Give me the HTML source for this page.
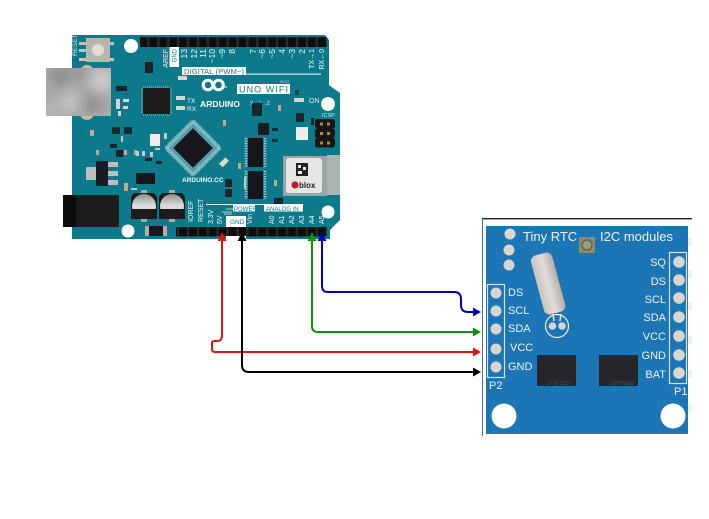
<!DOCTYPE html>
<html><head><meta charset="utf-8"><style>
html,body{margin:0;padding:0;background:#fff;width:709px;height:519px;overflow:hidden}
svg{display:block}
text{font-family:"Liberation Sans",sans-serif}
</style></head><body>
<svg width="709" height="519" viewBox="0 0 709 519" xmlns="http://www.w3.org/2000/svg">
<defs>
<filter id="b" x="-20%" y="-20%" width="140%" height="140%"><feGaussianBlur stdDeviation="6"/></filter>
<filter id="s" x="-2%" y="-2%" width="104%" height="104%"><feGaussianBlur stdDeviation="0.35"/></filter>
<clipPath id="uc"><rect x="46" y="68" width="65" height="48"/></clipPath>
<pattern id="hp" x="0" y="0" width="9.9" height="12" patternUnits="userSpaceOnUse"><rect width="9.9" height="12" fill="#2a2a2a"/><rect x="1.2" width="7.4" height="12" fill="#0c0c0c"/></pattern>
<linearGradient id="cg" x1="0" y1="0" x2="0" y2="1"><stop offset="0" stop-color="#8f8f8f"/><stop offset=".45" stop-color="#d8d8d8"/><stop offset=".62" stop-color="#e0e0e0"/><stop offset=".63" stop-color="#1a1a1a"/><stop offset="1" stop-color="#222"/></linearGradient>
<linearGradient id="xg" x1="0" y1="0" x2="1" y2="0"><stop offset="0" stop-color="#c9c3bd"/><stop offset=".5" stop-color="#e0dcd8"/><stop offset="1" stop-color="#b5aea8"/></linearGradient>
</defs>

<g filter="url(#s)">
<!-- Arduino board -->
<path d="M72 35H325L329 40V85L340 93V220L330 230V239H72Z" fill="#107a8b"/>

<!-- USB -->
<circle cx="87" cy="72" r="7" fill="#c9b9a3"/><circle cx="87" cy="113" r="7" fill="#c9b9a3"/>
<rect x="46" y="68" width="65" height="48" fill="#a9a9a9"/>
<g clip-path="url(#uc)"><g filter="url(#b)">
<circle cx="60" cy="76" r="10" fill="#8a8a8a"/><circle cx="102" cy="80" r="11" fill="#d2d2d2"/>
<circle cx="80" cy="72" r="8" fill="#939393"/><circle cx="70" cy="102" r="9" fill="#c9c9c9"/>
<circle cx="92" cy="104" r="9" fill="#8c8c8c"/><circle cx="52" cy="110" r="7" fill="#bdbdbd"/>
</g></g>

<!-- Reset -->
<rect x="79" y="42" width="9" height="3" fill="#c9c2b8"/><rect x="79" y="49" width="9" height="3" fill="#c9c2b8"/><rect x="79" y="58" width="9" height="3" fill="#c9c2b8"/>
<rect x="107" y="42" width="7" height="3" fill="#c9c2b8"/><rect x="107" y="58" width="7" height="3" fill="#c9c2b8"/>
<rect x="86" y="38" width="24" height="24" fill="#b8b5af"/><circle cx="98" cy="50" r="6" fill="#e0ddd2"/>
<text transform="translate(77 56) rotate(-90)" font-size="6.5" fill="#cfe6ea">RESET</text>

<!-- Holes -->
<circle cx="131" cy="46" r="7" fill="#fff"/><circle cx="328" cy="104" r="7" fill="#fff"/>
<circle cx="128" cy="231" r="6.5" fill="#fff"/><circle cx="328" cy="212" r="6.5" fill="#fff"/>

<!-- Headers -->
<rect x="140" y="37" width="187" height="10" fill="url(#hp)"/>
<rect x="176" y="227" width="151" height="9.5" fill="url(#hp)"/>
<rect x="226" y="236" width="20" height="4" fill="#fff"/>

<!-- Top labels -->
<rect x="169.500" y="47" width="9.500" height="20" fill="#fff"/>
<g font-size="8.500" fill="#f2f8f8" text-anchor="end">
<text transform="translate(168 49) rotate(-90)" font-size="7">AREF</text>
<text transform="translate(176.500 49) rotate(-90)" font-size="6" fill="#107a8b">GND</text>
<text transform="translate(187 49) rotate(-90)">13</text>
<text transform="translate(197 49) rotate(-90)">12</text>
<text transform="translate(206 49) rotate(-90)">11</text>
<text transform="translate(215 49) rotate(-90)">~10</text>
<text transform="translate(225 49) rotate(-90)">~9</text>
<text transform="translate(235 49) rotate(-90)">8</text>
<text transform="translate(256 49) rotate(-90)">7</text>
<text transform="translate(265 49) rotate(-90)">~6</text>
<text transform="translate(275 49) rotate(-90)">~5</text>
<text transform="translate(285 49) rotate(-90)">4</text>
<text transform="translate(295 49) rotate(-90)">~3</text>
<text transform="translate(305 49) rotate(-90)">2</text>
<text transform="translate(314 49) rotate(-90)" font-size="7">TX→1</text>
<text transform="translate(324 49) rotate(-90)" font-size="7">RX←0</text>
</g>
<rect x="182" y="67" width="64" height="8" fill="#fff"/>
<rect x="246" y="73.500" width="75" height="1.200" fill="#d8eef0"/>
<text x="184" y="74" font-size="7.500" fill="#107a8b" textLength="60">DIGITAL (PWM~)</text>

<!-- Logo -->
<g fill="none" stroke="#fff" stroke-width="3"><circle cx="208" cy="85" r="4.800"/><circle cx="218.500" cy="85" r="4.800"/></g>
<path d="M224 87h3" stroke="#fff" stroke-width="1"/>
<text x="200" y="107" font-size="8.500" font-weight="bold" fill="#fff" textLength="40">ARDUINO</text>
<rect x="237" y="84" width="53" height="10" fill="#fff"/>
<text x="239" y="92.500" font-size="9" fill="#107a8b" textLength="49">UNO WIFI</text>
<text x="280" y="83" font-size="3.500" fill="#b8dfe4">REV2</text>
<text x="309" y="103" font-size="7" fill="#e0f0f2">ON</text>
<rect x="294" y="98" width="10" height="4" fill="#d4d2cc"/><rect x="295" y="90" width="4" height="5" fill="#1b3f46"/>
<text x="322" y="117" font-size="5.500" fill="#cfe6ea">ICSP</text>
<text x="250" y="105" font-size="5" fill="#d8eef0">X←┴→Z</text>

<!-- ICSP -->
<rect x="315" y="119" width="20" height="9.500" rx="2.500" fill="#151515"/><rect x="315" y="128.500" width="20" height="9.500" rx="2.500" fill="#151515"/><rect x="315" y="138" width="20" height="9.500" rx="2.500" fill="#151515"/>
<g fill="#b08a2a"><rect x="320" y="122.500" width="3" height="3"/><rect x="327" y="122.500" width="3" height="3"/><rect x="320" y="132" width="3" height="3"/><rect x="327" y="132" width="3" height="3"/><rect x="320" y="141.500" width="3" height="3"/><rect x="327" y="141.500" width="3" height="3"/></g>

<!-- Chips -->
<rect x="143" y="88" width="27" height="26" fill="#1a1c1e"/>
<path d="M143 87h27M143 115h27M142 88v26M171 88v26" stroke="#6fa7ae" stroke-width="1.500" stroke-dasharray="1 1" fill="none"/>
<rect x="145" y="62" width="8" height="11" fill="#1a2226"/>
<rect x="116" y="86" width="11" height="5" fill="#16282c"/>
<g fill="#d7d5cf">
<rect x="116" y="99" width="4" height="10"/><rect x="123" y="99" width="6" height="3"/><rect x="123" y="106" width="5" height="3"/><rect x="118" y="111" width="3" height="5"/>
<rect x="176" y="96" width="9" height="4"/><rect x="176" y="106" width="9" height="4"/><rect x="178" y="76" width="9" height="4"/>
<rect x="296" y="127" width="12" height="13" fill="#efeee8"/>
<rect x="150" y="134" width="10" height="12" fill="#efeee8"/>
</g>
<text x="187" y="103" font-size="6.500" fill="#eef7f8">TX</text>
<text x="187" y="111" font-size="6.500" fill="#eef7f8">RX</text>

<!-- MCU -->
<rect x="173" y="128" width="40" height="40" transform="rotate(45 193 148)" fill="#7fb5bc" opacity=".6"/>
<rect x="174" y="129" width="38" height="38" transform="rotate(45 193 148)" fill="none" stroke="#a9d0d4" stroke-width="4" stroke-dasharray="1 1"/>
<rect x="179" y="134" width="28" height="28" transform="rotate(45 193 148)" fill="#17191b"/>

<!-- small parts -->
<g fill="#14262a">
<rect x="112" y="127" width="8" height="7"/><rect x="124" y="127" width="8" height="7"/><rect x="110" y="144" width="7" height="4"/>
<rect x="116" y="150" width="7" height="7"/><rect x="145" y="158" width="7" height="3"/><rect x="156" y="161" width="6" height="3"/>
<rect x="252" y="103" width="10" height="13"/><rect x="296" y="113" width="8" height="9"/><rect x="258" y="123" width="11" height="12" fill="#1a1c1e"/>
<rect x="272" y="128" width="6" height="3"/><rect x="272" y="139" width="6" height="3"/><rect x="311" y="118" width="3" height="7"/>
<rect x="274" y="198" width="9" height="8"/><rect x="225" y="179" width="7" height="8"/><rect x="225" y="189" width="7" height="8"/>
</g>
<g fill="#bda892">
<rect x="90" y="130" width="4" height="6"/><rect x="96" y="150" width="3" height="5"/><rect x="134" y="150" width="3" height="5"/>
<rect x="124" y="150" width="3" height="5"/><rect x="223" y="120" width="3" height="6"/><rect x="278" y="105" width="3" height="6"/>
<rect x="238" y="163" width="3" height="6"/><rect x="274" y="180" width="3" height="6"/>
</g>
<g fill="#c4c9c4">
<rect x="150" y="152" width="3" height="5"/><rect x="136" y="151" width="3" height="5"/><rect x="142" y="151" width="3" height="5"/><rect x="155" y="148" width="5" height="2"/>
<rect x="121" y="136" width="2" height="6"/><rect x="164" y="133" width="3" height="6"/><rect x="244" y="177" width="2" height="12"/>
</g>

<!-- Regulator -->
<rect x="86" y="167" width="10" height="13" fill="#bdbfbd"/>
<rect x="108" y="162" width="10" height="5" fill="#bdbfbd"/><rect x="108" y="171" width="10" height="5" fill="#bdbfbd"/><rect x="108" y="180" width="10" height="5" fill="#bdbfbd"/>
<rect x="96" y="161" width="12" height="25" fill="#131c20"/>
<rect x="124" y="183" width="4" height="8" fill="#bda892"/><rect x="131" y="188" width="6" height="2" fill="#bfc5c0"/>

<!-- SOIC -->
<rect x="136" y="173" width="19" height="11" fill="#14191c"/>

<!-- Jack -->
<rect x="63" y="195" width="56" height="32" fill="#1a1a1a"/>
<rect x="63" y="195" width="13" height="32" fill="#0d0d0d"/>

<!-- Caps -->
<path d="M134 193H154L157 197V219H131V197Z" fill="#141a1c"/><path d="M162 193H182L185 197V219H159V197Z" fill="#141a1c"/>
<rect x="141" y="190" width="6" height="3" fill="#a6afa9"/><rect x="169" y="190" width="6" height="3" fill="#a6afa9"/>
<rect x="141" y="219" width="6" height="3" fill="#a6afa9"/><rect x="169" y="219" width="6" height="3" fill="#a6afa9"/>
<circle cx="144" cy="206" r="12" fill="url(#cg)"/><circle cx="172" cy="206" r="12" fill="url(#cg)"/>

<!-- Diode -->
<rect x="145" y="226" width="22" height="10" fill="#b5aca0"/><rect x="149" y="226" width="14" height="10" fill="#141a1c"/>

<!-- SOP chips -->
<g stroke="#a9cdd1" stroke-width="2.500" stroke-dasharray="1.200 1.300" fill="none"><path d="M246 138v29M265 138v29M246 171v28M265 171v28"/></g>
<rect x="248" y="138" width="15" height="29" fill="#14181b"/><rect x="248" y="171" width="15" height="28" fill="#14181b"/>
<rect x="220" y="160" width="9" height="5" transform="rotate(-45 224 163)" fill="#ddd8cc"/>

<!-- ublox -->
<rect x="327" y="155" width="13" height="40" fill="#a9b5b3"/>
<rect x="283" y="156" width="44" height="40" fill="#9aa6a5"/>
<rect x="286" y="158" width="36" height="35" rx="3" fill="#e6e6e4"/>
<rect x="296" y="163" width="12" height="13" fill="#222"/>
<rect x="298" y="165" width="3" height="3" fill="#eee"/><rect x="303" y="167" width="3" height="3" fill="#eee"/><rect x="298" y="171" width="4" height="3" fill="#eee"/>
<circle cx="295" cy="185" r="3.600" fill="#c41230"/>
<text x="299" y="188" font-size="8" font-weight="bold" fill="#222">blox</text>

<!-- Bottom labels -->
<rect x="226" y="216" width="20" height="11" fill="#fff"/>
<text x="230" y="224" font-size="6.500" fill="#107a8b">GND</text>
<rect x="206" y="204" width="97" height="1" fill="#e8f4f5"/>
<rect x="233" y="205" width="22" height="6.500" fill="#fff"/>
<text x="234" y="211" font-size="6" fill="#107a8b">POWER</text>
<rect x="264" y="205" width="39" height="6.500" fill="#fff"/>
<text x="266" y="211" font-size="6" fill="#107a8b">ANALOG IN</text>
<path d="M222 212h10M224 214h8M226 209h7" stroke="#a9cdd1" stroke-width="1"/>
<g font-size="7" fill="#eef7f8">
<text transform="translate(193 222) rotate(-90)">IOREF</text>
<text transform="translate(203 222) rotate(-90)">RESET</text>
<text transform="translate(213 224) rotate(-90)">3.3V</text>
<text transform="translate(222 224) rotate(-90)">5V</text>
<text transform="translate(252 224) rotate(-90)">Vin</text>
<text transform="translate(274 224) rotate(-90)">A0</text>
<text transform="translate(284 224) rotate(-90)">A1</text>
<text transform="translate(294 224) rotate(-90)">A2</text>
<text transform="translate(304 224) rotate(-90)">A3</text>
<text transform="translate(314 224) rotate(-90)">A4</text>
<text transform="translate(324 224) rotate(-90)">A5</text>
</g>
<text x="182" y="182" font-size="6.500" font-weight="bold" fill="#eef7f8">ARDUINO.CC</text>
</g>

<!-- RTC module -->
<g filter="url(#s)">
<rect x="483" y="219" width="208" height="216" fill="#fff"/>
<rect x="482" y="218" width="210" height="1.400" fill="#222"/>
<rect x="482" y="219" width="1" height="217" fill="#3a75a8"/>
<rect x="486" y="226" width="202" height="208" fill="#1d74b4"/>
<g fill="#f0f0f0"><rect x="688" y="238" width="4" height="8"/><rect x="688" y="270" width="4" height="8"/><rect x="688" y="302" width="4" height="8"/><rect x="688" y="336" width="4" height="8"/><rect x="688" y="370" width="4" height="8"/><rect x="688" y="404" width="4" height="8"/></g>

<text x="523" y="241" font-size="13" fill="#eef4f8">Tiny RTC</text>
<text x="600" y="241" font-size="13" fill="#eef4f8">I2C modules</text>
<g fill="#d8d6d0"><circle cx="510" cy="234" r="5.500"/><circle cx="509" cy="250" r="5.500"/><circle cx="509" cy="265" r="5.500"/></g>
<rect x="579" y="237" width="16" height="16" fill="#8b8a72"/><circle cx="587" cy="245" r="5" fill="#9c9b85" stroke="#66663f" stroke-width="1.500"/>

<rect x="537" y="253" width="22" height="61" rx="6" transform="rotate(-15 548 283)" fill="url(#xg)"/>
<circle cx="557" cy="326" r="11.500" fill="none" stroke="#f2f2f2" stroke-width="1.200"/>
<path d="M553 314l1 7M561 314l-1 7" stroke="#e8e6e2" stroke-width="1.500"/>
<circle cx="552.500" cy="326" r="3.800" fill="#d8d6d0"/><circle cx="562" cy="326" r="3.800" fill="#d8d6d0"/>

<rect x="487.500" y="284.500" width="17" height="93" fill="none" stroke="#d4e4ef" stroke-width="1.200"/>
<g fill="#d8d6d0"><circle cx="496" cy="293" r="5.500"/><circle cx="496" cy="311" r="5.500"/><circle cx="496" cy="329" r="5.500"/><circle cx="496" cy="349" r="5.500"/><circle cx="496" cy="367" r="5.500"/></g>
<g font-size="11" fill="#eef4f8">
<text x="508" y="296">DS</text><text x="508" y="314">SCL</text><text x="508" y="332">SDA</text><text x="510" y="351">VCC</text><text x="508" y="370">GND</text>
<text x="489" y="389">P2</text><text x="674" y="395">P1</text>
</g>
<rect x="669.500" y="252.500" width="17" height="131" fill="none" stroke="#d4e4ef" stroke-width="1.200"/>
<g fill="#d8d6d0"><circle cx="679" cy="262" r="5.800"/><circle cx="679" cy="280" r="5.800"/><circle cx="679" cy="298" r="5.800"/><circle cx="679" cy="317" r="5.800"/><circle cx="679" cy="336" r="5.800"/><circle cx="679" cy="355" r="5.800"/><circle cx="679" cy="373" r="5.800"/></g>
<g font-size="11" fill="#eef4f8" text-anchor="end">
<text x="666" y="266">SQ</text><text x="666" y="285">DS</text><text x="666" y="303">SCL</text><text x="666" y="321">SDA</text><text x="666" y="340">VCC</text><text x="666" y="359">GND</text><text x="666" y="378">BAT</text>
</g>
<rect x="537" y="355" width="39" height="31" fill="#27282c"/><rect x="599" y="355" width="39" height="31" fill="#27282c"/>
<text transform="translate(570 381) rotate(180)" font-size="5.500" fill="#4a4b50">DS1307Z</text>
<text transform="translate(634 381) rotate(180)" font-size="5" fill="#4a4b50">ATMEL832</text>
<circle cx="504" cy="416" r="12.500" fill="#fff"/><circle cx="673" cy="416" r="12.500" fill="#fff"/>
</g>

<!-- Wires -->
<g fill="none" stroke-width="2">
<path d="M322 240V286Q322 292 328 292H454Q461 292 461 299V305Q461 312 468 312H474" stroke="#0000c0"/>
<path d="M312 240V326Q312 332 318 332H474" stroke="#0a960a"/>
<path d="M222 240V335Q222 341 217 341H214Q212 341 212 344V349Q212 352 215 352H474" stroke="#e01414"/>
<path d="M242 240V365Q242 372 249 372H474" stroke="#000"/>
</g>
<path d="M481 312L473 307.500V316.500Z" fill="#0000c0"/>
<path d="M481 332L473 327.500V336.500Z" fill="#0a960a"/>
<path d="M481 352L473 347.500V356.500Z" fill="#e01414"/>
<path d="M481 372L473 367.500V376.500Z" fill="#000"/>
<path d="M322 232L317.500 241H326.500Z" fill="#0000c0"/>
<path d="M312 232L307.500 241H316.500Z" fill="#0a960a"/>
<path d="M222 232L217.500 241H226.500Z" fill="#e01414"/>
<path d="M242 232L237.500 241H246.500Z" fill="#000"/>
</svg>
</body></html>
